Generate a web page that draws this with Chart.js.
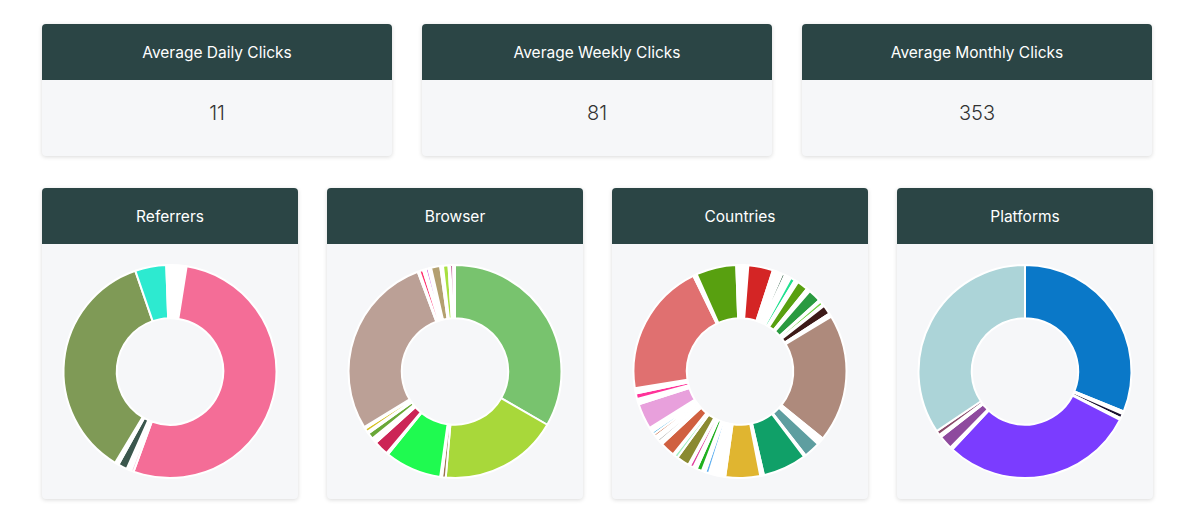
<!DOCTYPE html>
<html>
<head>
<meta charset="utf-8">
<script src="https://cdn.jsdelivr.net/npm/chart.js@4"></script>
<style>
  body { margin: 0; background: #fff; font-family: Inter, "Liberation Sans", Arial, sans-serif; }
  .card { position: absolute; background: #f6f7f9; border-radius: 4px; box-shadow: 0 1px 4px rgba(0,0,0,0.15); overflow: hidden; }
  .head { background: #2b4545; color: #fff; height: 56px; line-height: 57px; text-align: center; font-size: 15.5px; font-weight: 400; }
  .val { height: 76px; line-height: 66px; text-align: center; font-size: 20px; color: #333; font-weight: 300; }
  .body { height: 215px; padding: 20px 0; }
</style>
</head>
<body>
<div id="stats"></div>
<div id="charts"></div>
<script>
// top stat cards
const statTitles = ['Average Daily Clicks', 'Average Weekly Clicks', 'Average Monthly Clicks'];
const statValues = [11, 81, 353];

// doughnut data (values in degrees of the ring)
const referrerLabels = ['w1', 'r1', 'r2', 'w2', 'r3', 'w3', 'r4', 'r5', 'w4'];
const referrerValues = [9, 191, 1.5, 2.5, 5, 2, 130, 17, 2];
const referrerColors = ['#ffffff', '#f46d97', '#f7c6d8', '#ffffff', '#3b574d', '#ffffff', '#7f9a56', '#2dead0', '#ffffff'];

const browserLabels = ['b1','b2','b3','w1','b4','b5','b6','w2','b7','w3','b8','w4','b9','w5','b10','w6','b11','w7','b12','w8','b13','w9','b14','w10'];
const browserValues = [120, 65, 2, 1, 31, 1, 8, 3, 3.5, 1, 2, 1, 101, 1, 2, 1.5, 1.5, 1.5, 5, 1.5, 3, 1, 1.5, 1];
const browserColors = ['#78c36e','#a8d83a','#9a7550','#ffffff','#1ffa50','#e060e0','#cc2556','#ffffff','#6aa838','#ffffff','#d4c020','#ffffff','#bba096','#ffffff','#ff3070','#ffffff','#d050e0','#ffffff','#b3a070','#ffffff','#a8e040','#ffffff','#a01060','#ffffff'];

const countryValues = [2, 1, 1.5, 13.5, 2, 1, 2.5, 1.5, 3.5, 2.5, 2, 6, 2, 7, 1, 2, 1, 5, 2, 70, 4, 9, 1, 24, 2, 19, 2, 1, 1.5, 1, 3.5, 2, 2, 3, 1, 1, 2, 1, 7, 2, 1, 8, 1, 1, 1.5, 1, 1, 1.5, 1.5, 2.5, 14, 2, 1, 3, 3, 73, 2, 22, 2];
const countryColors = ['#ffffff','#6030b0','#ffffff','#d42525','#ffffff','#f0a0f0','#ffffff','#2a5a40','#ffffff','#20e090','#ffffff','#58a010','#ffffff','#2a9a40','#ffffff','#70d040','#ffffff','#3d1a18','#ffffff','#ae8a7c','#ffffff','#5e9ea0','#ffffff','#10a068','#ffffff','#e0b530','#ffffff','#e020a0','#ffffff','#e060e0','#ffffff','#60b0f0','#ffffff','#20b020','#a0e0d0','#ffffff','#e040a0','#ffffff','#8a8a30','#a0f0c0','#ffffff','#d06040','#ffffff','#b0a080','#a0a0a0','#ffffff','#f0b0e0','#c05020','#20a0e0','#ffffff','#e8a0dc','#ffffff','#d0f0c0','#ff3399','#ffffff','#e07070','#ffffff','#58a010','#ffffff'];
const countryLabels = countryValues.map((v, i) => 'c' + i);

const platformLabels = ['p1','w1','p2','w2','p3','w3','p4','w4','p5','p6'];
const platformValues = [112, 1.5, 2.5, 1, 106, 1.5, 7.5, 1.5, 2.5, 124];
const platformColors = ['#0a78c8','#ffffff','#1a1030','#ffffff','#7b3cff','#ffffff','#8e4a9e','#ffffff','#8a4a6a','#acd4d8'];

const chartTitles = ['Referrers', 'Browser', 'Countries', 'Platforms'];
const chartData = [
    {labels: referrerLabels, values: referrerValues, colors: referrerColors},
    {labels: browserLabels, values: browserValues, colors: browserColors},
    {labels: countryLabels, values: countryValues, colors: countryColors},
    {labels: platformLabels, values: platformValues, colors: platformColors}
];

const statsDiv = document.getElementById('stats');
statTitles.forEach((t, i) => {
    const c = document.createElement('div');
    c.className = 'card';
    c.style.left = (42 + i * 380) + 'px';
    c.style.top = '24px';
    c.style.width = '350px';
    c.innerHTML = '<div class="head">' + t + '</div><div class="val">' + statValues[i] + '</div>';
    statsDiv.appendChild(c);
});

const chartsDiv = document.getElementById('charts');
chartTitles.forEach((t, i) => {
    const c = document.createElement('div');
    c.className = 'card';
    c.style.left = (42 + i * 285) + 'px';
    c.style.top = '188px';
    c.style.width = '256px';
    c.innerHTML = '<div class="head">' + t + '</div><div class="body"><div style="position:relative;height:215px"><canvas></canvas></div></div>';
    chartsDiv.appendChild(c);
    const d = chartData[i];
    new Chart(c.querySelector('canvas'), {
        type: 'doughnut',
        data: {
            labels: d.labels,
            datasets: [{
                data: d.values,
                backgroundColor: d.colors,
                borderColor: '#ffffff',
                borderWidth: 2
            }]
        },
        options: {
            maintainAspectRatio: false,
            animation: false,
            plugins: {
                legend: {display: false},
                tooltip: {enabled: false}
            }
        }
    });
});
</script>
</body>
</html>
